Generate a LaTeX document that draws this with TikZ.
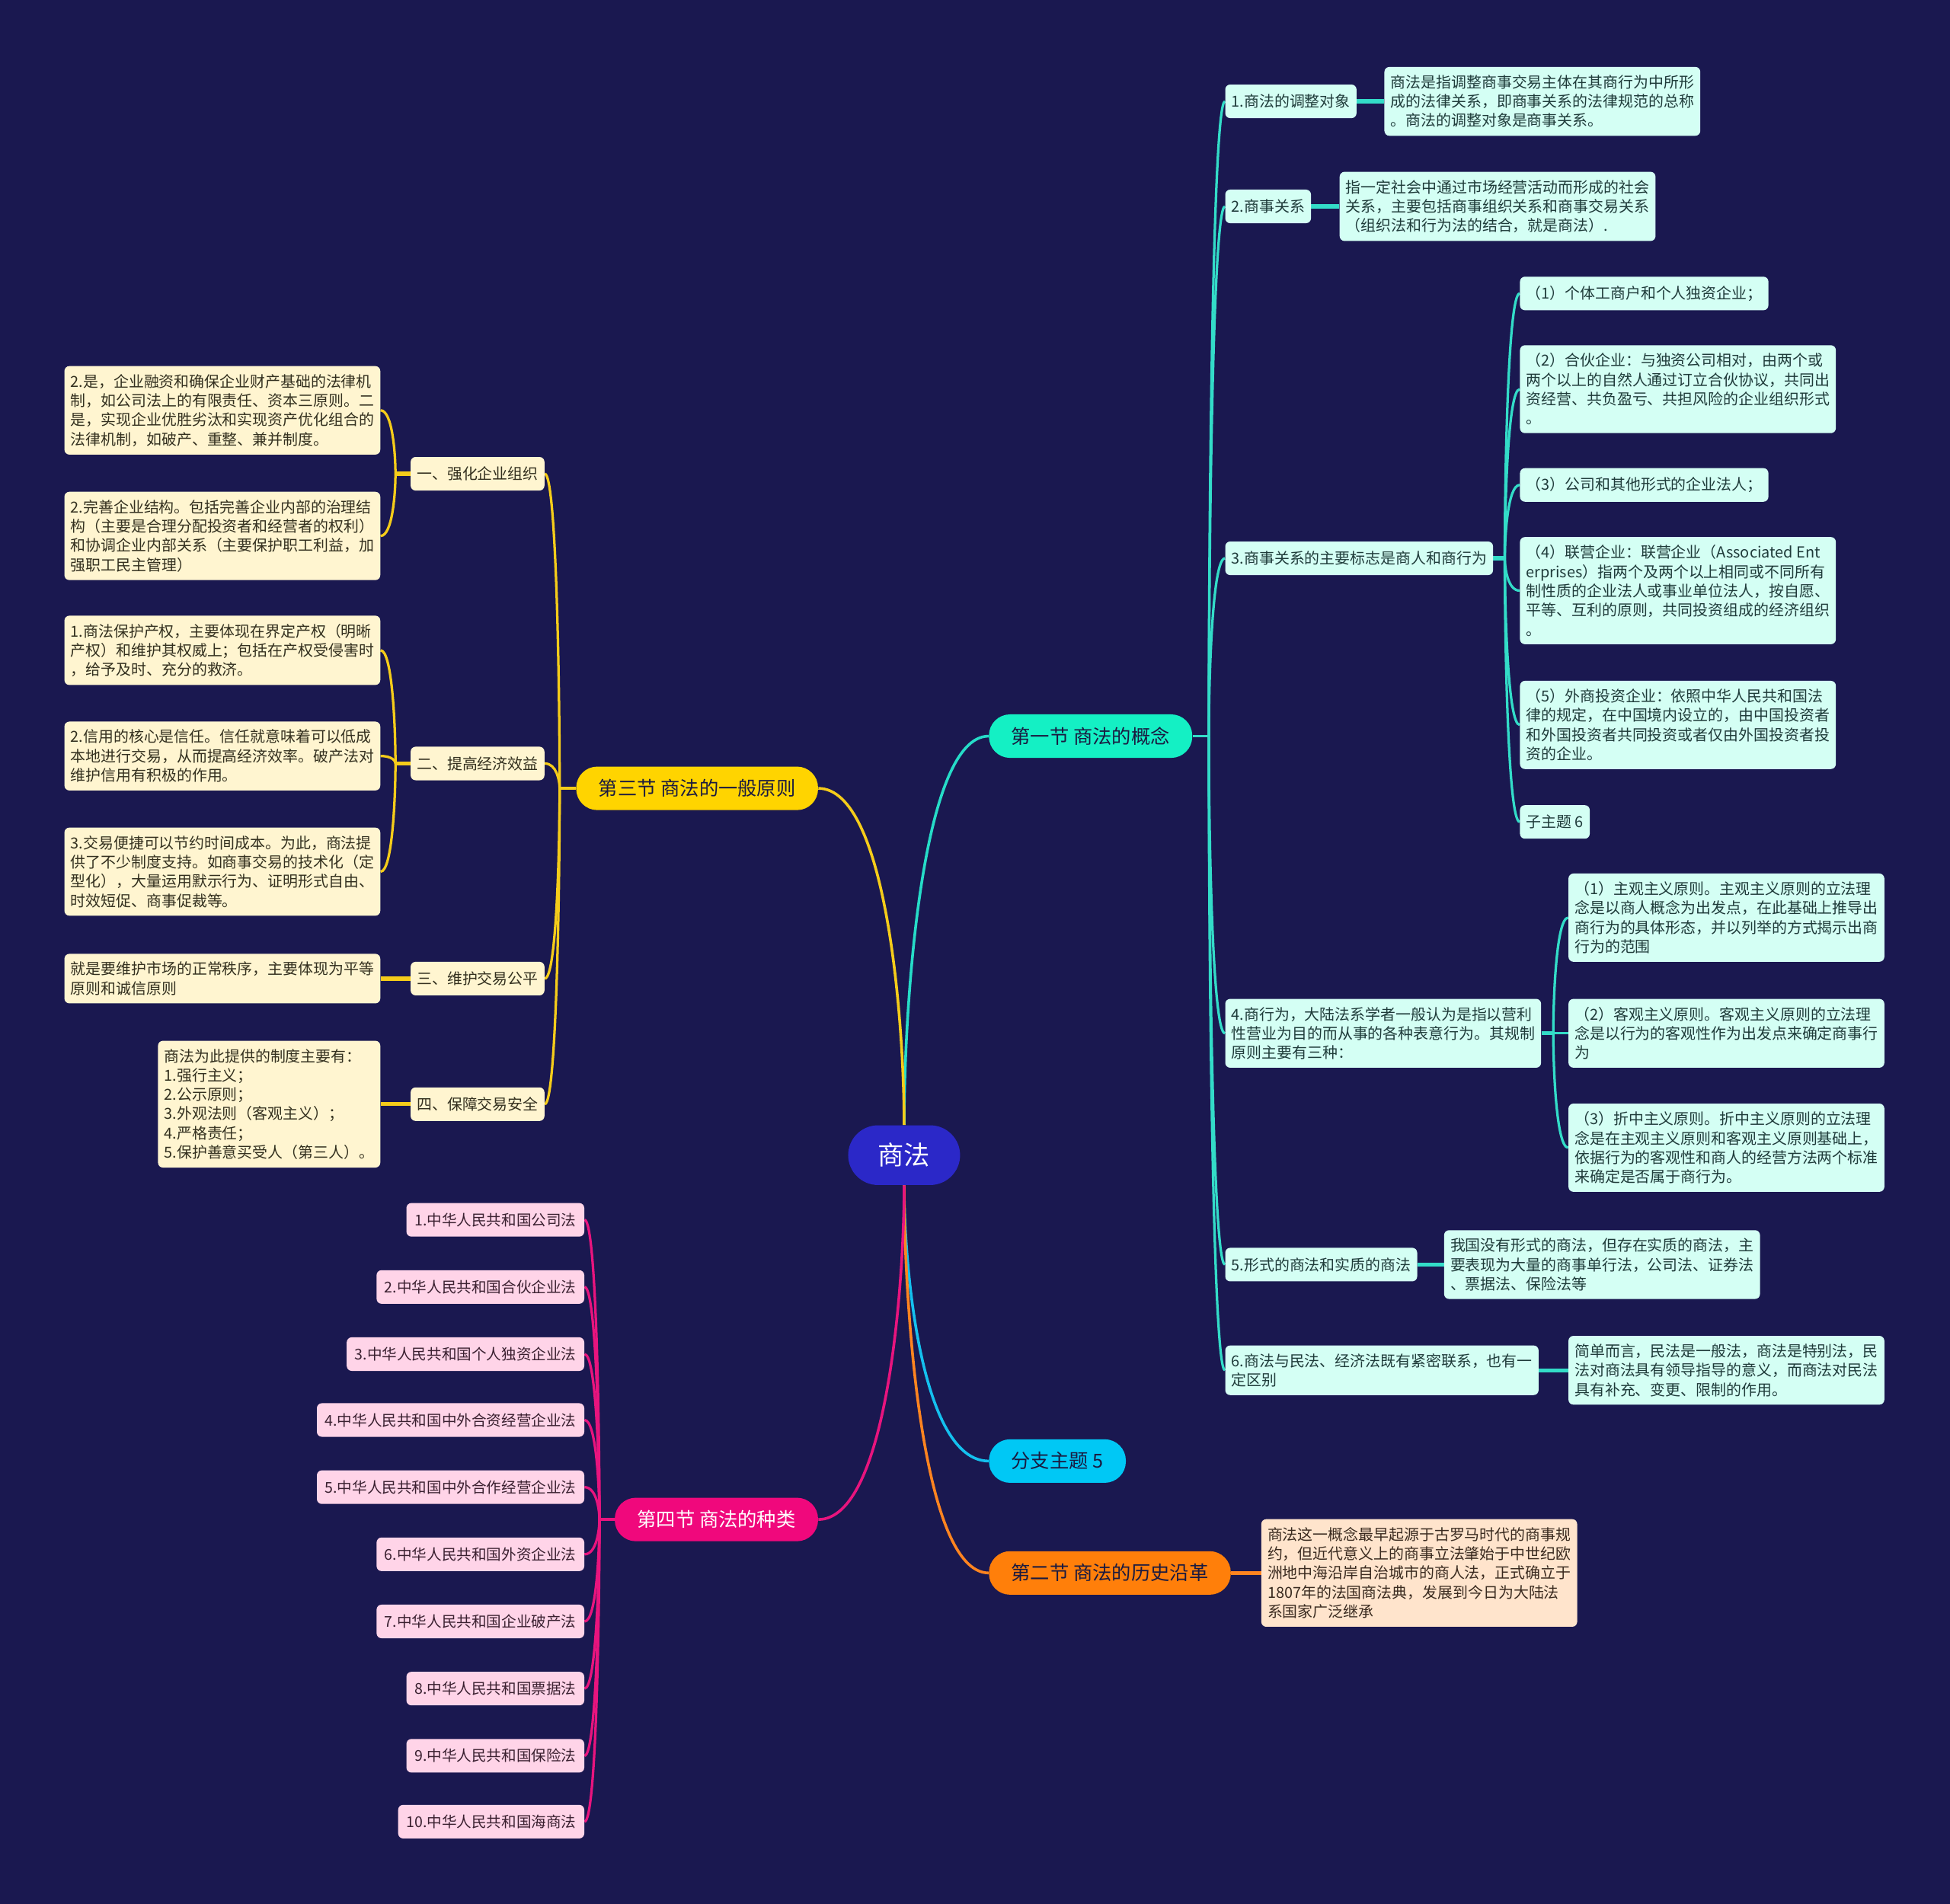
\documentclass[tikz,border=0pt]{standalone}
\usepackage{fontspec}
\setmainfont{Noto Sans CJK SC}
\usetikzlibrary{calc}
\pgfdeclarelayer{back}
\pgfdeclarelayer{lines}
\pgfsetlayers{back,lines,main}
\definecolor{bgc}{HTML}{1A1850}
\definecolor{rootc}{HTML}{2B28C8}
\definecolor{darkt}{HTML}{1A1A40}
\definecolor{tealm}{HTML}{14F0C4}
\definecolor{tealml}{HTML}{26DCC8}
\definecolor{teall}{HTML}{33DCC8}
\definecolor{tboxc}{HTML}{D4FFF4}
\definecolor{ttext}{HTML}{1F3B3A}
\definecolor{yelm}{HTML}{FFD400}
\definecolor{yell}{HTML}{F5CC1A}
\definecolor{yboxc}{HTML}{FFF5D0}
\definecolor{ytext}{HTML}{33301F}
\definecolor{cyanm}{HTML}{00C8F5}
\definecolor{cyanl}{HTML}{14C0EE}
\definecolor{orm}{HTML}{FF7F0A}
\definecolor{orl}{HTML}{FF8420}
\definecolor{oboxc}{HTML}{FFE4CC}
\definecolor{otext}{HTML}{3A2B20}
\definecolor{pinkm}{HTML}{F0087C}
\definecolor{pinkl}{HTML}{E8147E}
\definecolor{pboxc}{HTML}{FFD4E8}
\definecolor{ptext}{HTML}{3A2030}
\newcommand\mmlink[3]{\draw[#1] (#2) .. controls ($(#2)!0.3!(#2 |- #3)$) and ($(#2 |- #3)!0.2!(#3)$) .. (#3);}
\tikzset{
  basebox/.style={font=\fontsize{12.2}{15.5}\selectfont, align=left, inner xsep=5pt, inner ysep=6.5pt, minimum height=27pt, rounded corners=4pt},
  tbox/.style={basebox, fill=tboxc, text=ttext},
  ybox/.style={basebox, fill=yboxc, text=ytext},
  obox/.style={basebox, fill=oboxc, text=otext},
  pbox/.style={basebox, font=\fontsize{12}{14}\selectfont, fill=pboxc, text=ptext, inner xsep=6.5pt},
  mainbox/.style={rounded corners=17pt, minimum height=35pt, inner xsep=18pt, font=\fontsize{15.5}{18}\selectfont},
  rootbox/.style={fill=rootc, text=white, rounded corners=24pt, minimum width=90pt, minimum height=48pt, font=\fontsize{21}{25}\selectfont},
  mline/.style={line width=2.2pt},
  cline/.style={line width=2pt},
  sline/.style={line width=3.2pt},
}
\begin{document}
\begin{tikzpicture}[x=1pt,y=-1pt]
\useasboundingbox (0,0) rectangle (1568,1531);
\begin{pgfonlayer}{back}
\fill[bgc] (0,0) rectangle (1568,1531);
\end{pgfonlayer}

% root and main branches
\node[rootbox] (R) at (727,929) {商法};
\node[mainbox, fill=tealm, text=darkt, anchor=west] (B1) at (795,592) {第一节 商法的概念};
\node[mainbox, fill=yelm, text=darkt, anchor=east] (B3) at (658,634) {第三节 商法的一般原则};
\node[mainbox, fill=cyanm, text=darkt, anchor=west] (B5) at (795,1175) {分支主题 5};
\node[mainbox, fill=orm, text=darkt, anchor=west] (B2) at (795,1265) {第二节 商法的历史沿革};
\node[mainbox, fill=pinkm, text=white, anchor=east] (B4) at (658,1222) {第四节 商法的种类};

% teal branch
\coordinate (jT) at (972,592);
\coordinate (jT3) at (1210,449);
\coordinate (jT4) at (1249,831);
\node[tbox, anchor=west] (T1) at (985,81.5) {1.商法的调整对象};
\node[tbox, anchor=west] (T1a) at (1113,81.5) {商法是指调整商事交易主体在其商行为中所形\\成的法律关系，即商事关系的法律规范的总称\\。商法的调整对象是商事关系。};
\node[tbox, anchor=west] (T2) at (985,166) {2.商事关系};
\node[tbox, anchor=west] (T2a) at (1077,166) {指一定社会中通过市场经营活动而形成的社会\\关系，主要包括商事组织关系和商事交易关系\\（组织法和行为法的结合，就是商法）.};
\node[tbox, anchor=west] (T3) at (985,449) {3.商事关系的主要标志是商人和商行为};
\node[tbox, anchor=west] (T3a) at (1222,236) {（1）个体工商户和个人独资企业；};
\node[tbox, anchor=west] (T3b) at (1222,313) {（2）合伙企业：与独资公司相对，由两个或\\两个以上的自然人通过订立合伙协议，共同出\\资经营、共负盈亏、共担风险的企业组织形式\\。};
\node[tbox, anchor=west] (T3c) at (1222,390) {（3）公司和其他形式的企业法人；};
\node[tbox, anchor=west] (T3d) at (1222,475) {（4）联营企业：联营企业（Associated Ent\\erprises）指两个及两个以上相同或不同所有\\制性质的企业法人或事业单位法人，按自愿、\\平等、互利的原则，共同投资组成的经济组织\\。};
\node[tbox, anchor=west] (T3e) at (1222,583) {（5）外商投资企业：依照中华人民共和国法\\律的规定，在中国境内设立的，由中国投资者\\和外国投资者共同投资或者仅由外国投资者投\\资的企业。};
\node[tbox, anchor=west] (T3f) at (1222,661) {子主题 6};
\node[tbox, anchor=west] (T4) at (985,831) {4.商行为，大陆法系学者一般认为是指以营利\\性营业为目的而从事的各种表意行为。其规制\\原则主要有三种：};
\node[tbox, anchor=west] (T4a) at (1261,738) {（1）主观主义原则。主观主义原则的立法理\\念是以商人概念为出发点，在此基础上推导出\\商行为的具体形态，并以列举的方式揭示出商\\行为的范围};
\node[tbox, anchor=west] (T4b) at (1261,831) {（2）客观主义原则。客观主义原则的立法理\\念是以行为的客观性作为出发点来确定商事行\\为};
\node[tbox, anchor=west] (T4c) at (1261,923) {（3）折中主义原则。折中主义原则的立法理\\念是在主观主义原则和客观主义原则基础上，\\依据行为的客观性和商人的经营方法两个标准\\来确定是否属于商行为。};
\node[tbox, anchor=west] (T5) at (985,1017) {5.形式的商法和实质的商法};
\node[tbox, anchor=west] (T5a) at (1161,1017) {我国没有形式的商法，但存在实质的商法，主\\要表现为大量的商事单行法，公司法、证券法\\、票据法、保险法等};
\node[tbox, anchor=west] (T6) at (985,1102) {6.商法与民法、经济法既有紧密联系，也有一\\定区别};
\node[tbox, anchor=west] (T6a) at (1261,1102) {简单而言，民法是一般法，商法是特别法，民\\法对商法具有领导指导的意义，而商法对民法\\具有补充、变更、限制的作用。};

% yellow branch
\coordinate (jY) at (450,634);
\coordinate (jY1) at (318,381);
\coordinate (jY2) at (318,614);
\node[ybox, anchor=east] (Y1) at (438,381) {一、强化企业组织};
\node[ybox, anchor=east] (Y1a) at (306,330) {2.是，企业融资和确保企业财产基础的法律机\\制，如公司法上的有限责任、资本三原则。二\\是，实现企业优胜劣汰和实现资产优化组合的\\法律机制，如破产、重整、兼并制度。};
\node[ybox, anchor=east] (Y1b) at (306,431) {2.完善企业结构。包括完善企业内部的治理结\\构（主要是合理分配投资者和经营者的权利）\\和协调企业内部关系（主要保护职工利益，加\\强职工民主管理）};
\node[ybox, anchor=east] (Y2) at (438,614) {二、提高经济效益};
\node[ybox, anchor=east] (Y2a) at (306,523) {1.商法保护产权，主要体现在界定产权（明晰\\产权）和维护其权威上；包括在产权受侵害时\\，给予及时、充分的救济。};
\node[ybox, anchor=east] (Y2b) at (306,608) {2.信用的核心是信任。信任就意味着可以低成\\本地进行交易，从而提高经济效率。破产法对\\维护信用有积极的作用。};
\node[ybox, anchor=east] (Y2c) at (306,701) {3.交易便捷可以节约时间成本。为此，商法提\\供了不少制度支持。如商事交易的技术化（定\\型化），大量运用默示行为、证明形式自由、\\时效短促、商事促裁等。};
\node[ybox, anchor=east] (Y3) at (438,787) {三、维护交易公平};
\node[ybox, anchor=east] (Y3a) at (306,787) {就是要维护市场的正常秩序，主要体现为平等\\原则和诚信原则};
\node[ybox, anchor=east] (Y4) at (438,888) {四、保障交易安全};
\node[ybox, anchor=east] (Y4a) at (306,888) {商法为此提供的制度主要有：\\1.强行主义；\\2.公示原则；\\3.外观法则（客观主义）；\\4.严格责任；\\5.保护善意买受人（第三人）。};

% orange branch
\node[obox, anchor=west] (O1) at (1014,1265) {商法这一概念最早起源于古罗马时代的商事规\\约，但近代意义上的商事立法肇始于中世纪欧\\洲地中海沿岸自治城市的商人法，正式确立于\\1807年的法国商法典，发展到今日为大陆法\\系国家广泛继承};

% pink branch
\coordinate (jP) at (482,1222);
\node[pbox, anchor=east] (P1) at (470,981) {1.中华人民共和国公司法};
\node[pbox, anchor=east] (P2) at (470,1035) {2.中华人民共和国合伙企业法};
\node[pbox, anchor=east] (P3) at (470,1089) {3.中华人民共和国个人独资企业法};
\node[pbox, anchor=east] (P4) at (470,1142) {4.中华人民共和国中外合资经营企业法};
\node[pbox, anchor=east] (P5) at (470,1196) {5.中华人民共和国中外合作经营企业法};
\node[pbox, anchor=east] (P6) at (470,1250) {6.中华人民共和国外资企业法};
\node[pbox, anchor=east] (P7) at (470,1304) {7.中华人民共和国企业破产法};
\node[pbox, anchor=east] (P8) at (470,1358) {8.中华人民共和国票据法};
\node[pbox, anchor=east] (P9) at (470,1412) {9.中华人民共和国保险法};
\node[pbox, anchor=east] (P10) at (470,1465) {10.中华人民共和国海商法};

\begin{pgfonlayer}{lines}
% root links
\mmlink{mline, tealml}{R.north}{B1.west}
\mmlink{mline, yell}{R.north}{B3.east}
\mmlink{mline, cyanl}{R.south}{B5.west}
\mmlink{mline, orl}{R.south}{B2.west}
\mmlink{mline, pinkl}{R.south}{B4.east}
% teal
\draw[cline, teall] (B1.east) -- (jT);
\foreach \n in {T1,T2,T3,T4,T5,T6} {\mmlink{cline, teall}{jT}{\n.west}}
\draw[sline, teall] (T1.east) -- (T1a.west);
\draw[sline, teall] (T2.east) -- (T2a.west);
\draw[sline, teall] (T3.east) -- (jT3);
\foreach \n in {T3a,T3b,T3c,T3d,T3e,T3f} {\mmlink{cline, teall}{jT3}{\n.west}}
\draw[sline, teall] (T4.east) -- (jT4);
\foreach \n in {T4a,T4b,T4c} {\mmlink{cline, teall}{jT4}{\n.west}}
\draw[sline, teall] (T5.east) -- (T5a.west);
\draw[sline, teall] (T6.east) -- (T6a.west);
% yellow
\draw[cline, yell] (B3.west) -- (jY);
\foreach \n in {Y1,Y2,Y3,Y4} {\mmlink{cline, yell}{jY}{\n.east}}
\draw[sline, yell] (Y1.west) -- (jY1);
\foreach \n in {Y1a,Y1b} {\mmlink{cline, yell}{jY1}{\n.east}}
\draw[sline, yell] (Y2.west) -- (jY2);
\foreach \n in {Y2a,Y2b,Y2c} {\mmlink{cline, yell}{jY2}{\n.east}}
\draw[sline, yell] (Y3.west) -- (Y3a.east);
\draw[sline, yell] (Y4.west) -- (Y4a.east);
% orange
\draw[sline, orl] (B2.east) -- (O1.west);
% pink
\draw[cline, pinkl] (B4.west) -- (jP);
\foreach \n in {P1,P2,P3,P4,P5,P6,P7,P8,P9,P10} {\mmlink{cline, pinkl}{jP}{\n.east}}
\end{pgfonlayer}
\end{tikzpicture}
\end{document}
